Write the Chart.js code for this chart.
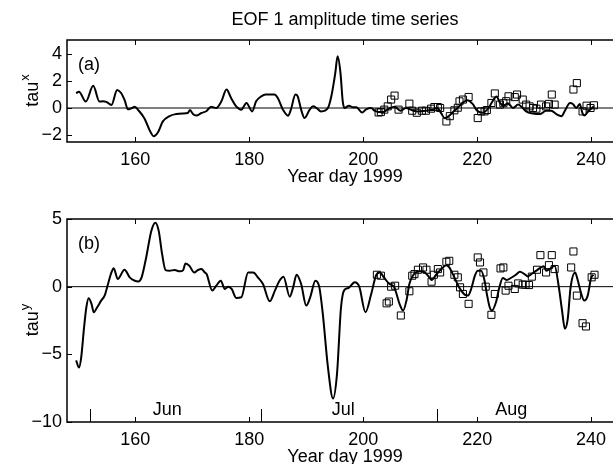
<!DOCTYPE html>
<html>
<head>
<meta charset="utf-8">
<script src="https://cdn.jsdelivr.net/npm/chart.js@4.4.0/dist/chart.umd.min.js"></script>
<style>
html, body { margin: 0; padding: 0; background: #fff; overflow: hidden; width: 613px; height: 464px; }
canvas { position: absolute; left: 0; }
</style>
</head>
<body>
<canvas id="tauX" width="630" height="200" style="top:0"></canvas>
<canvas id="tauY" width="630" height="280" style="top:200px"></canvas>
<script>
// axis ticks and month marks
const xTicks = [160, 180, 200, 220, 240];
const yTicksA = [-2, 0, 2, 4];
const yTicksB = [-10, -5, 0, 5];
const monthStarts = [152, 182, 213];
const monthNames = ['Jun', 'Jul', 'Aug'];
const monthLabelDays = [165.6, 196.5, 226];

// panel (a): EOF 1 amplitude, tau x
const dayA = [149.6, 150.1, 151.3, 152.6, 153.7, 154.3, 154.9, 155.8, 156.8, 157.5, 158.1, 158.7, 159.3, 159.9,
	160.5, 161.6, 162.5, 163.2, 164.0, 164.8, 166.0, 167.2, 168.3, 169.2, 169.6, 170.1, 170.7, 171.6, 172.5,
	173.3, 174.2, 175.1, 176.0, 176.8, 177.7, 178.6, 179.5, 180.5, 181.2, 182.1, 182.9, 184.4, 185.0, 185.9,
	186.8, 187.3, 188.1, 188.5, 189.1, 189.7, 190.6, 191.2, 191.8, 192.6, 193.8, 194.4, 195.1, 195.5, 196.0,
	196.4, 196.7, 197.5, 198.2, 198.8, 199.8, 200.5, 201.4, 202.0, 202.7, 203.5, 204.5, 205.5, 206.5, 207.5,
	208.5, 209.5, 211.0, 212.0, 213.0, 213.7, 214.3, 215.0, 216.0, 216.8, 217.5, 218.3, 219.2, 220.0, 221.0,
	222.0, 222.7, 223.4, 224.0, 224.6, 225.4, 226.3, 227.2, 228.0, 228.6, 229.8, 231.0, 232.1, 233.0, 233.9,
	234.8, 235.4, 236.3, 236.8, 237.4, 238.0, 238.5, 238.8, 239.6, 240.5];
const tauX = [1.09, 1.2, 0.47, 1.63, 0.47, 0.5, 0.45, 0.22, 1.33, 1.1, 0.59, -0.1, -0.02, 0.1,
	-0.15, -0.77, -1.63, -2.07, -1.76, -1.0, -0.59, -0.44, -0.4, -0.37, -0.15, -0.44, -0.55, -0.37, -0.22,
	0.1, 0.0, 0.49, 1.36, 0.74, 0.12, -0.12, 0.37, -0.25, 0.49, 0.86, 0.99, 0.99, 0.74, -0.12,
	-0.57, -0.12, 0.99, 0.86, -0.12, -0.74, -0.12, 0.12, 0.0, -0.25, 0.0, 0.86, 2.59, 3.8, 2.6,
	0.5, 0.0, 0.17, 0.05, 0.05, -0.33, -0.1, 0.0, -0.2, -0.3, -0.3, -0.05, 0.1, -0.2, 0.0,
	-0.15, -0.25, -0.2, -0.15, 0.0, -0.4, -0.75, -0.6, -0.2, 0.1, 0.4, 0.57, 0.3, -0.2, -0.35,
	0.0, 0.5, 0.85, 0.4, 0.15, 0.35, 0.0, 0.25, 0.0, -0.25, -0.4, -0.45, -0.2, -0.2, -0.45,
	-0.6, -0.2, 0.37, 0.3, 0.0, 0.3, -0.4, -0.55, -0.2, 0.12];
const obsDayA = [202.7, 203.1, 203.7, 204.3, 204.9, 205.5, 206.2, 208.1, 208.6, 209.4, 210.3, 211.0, 211.9,
	212.5, 213.1, 213.5, 214.6, 215.2, 216.0, 216.6, 216.9, 217.5, 218.5, 220.1, 220.7, 221.3, 221.7, 222.5,
	223.1, 224.0, 224.6, 225.1, 225.5, 226.6, 227.0, 228.0, 228.6, 229.2, 229.8, 230.4, 231.2, 232.1, 232.6,
	233.1, 233.6, 236.9, 237.5, 238.5, 239.2, 239.9, 240.5];
const obsTauX = [-0.33, -0.3, -0.12, 0.12, 0.62, 0.91, -0.12, 0.32, -0.2, -0.35, -0.2, -0.2, -0.05,
	0.07, 0.07, 0.0, -0.99, -0.6, -0.17, 0.02, 0.49, 0.62, 0.81, -0.74, -0.25, -0.25, -0.15, 0.37,
	1.07, 0.25, 0.35, 0.5, 0.86, 0.8, 0.99, 0.62, 0.25, 0.12, 0.0, -0.05, 0.25, 0.12, 0.3,
	0.99, 0.25, 1.36, 1.83, -0.25, 0.17, 0.0, 0.2];

// panel (b): EOF 1 amplitude, tau y
const dayB = [149.6, 150.1, 150.5, 151.0, 151.4, 151.8, 152.3, 152.7, 153.3, 154.0, 154.6, 155.2, 155.8, 156.2,
	156.9, 158.1, 159.0, 159.9, 160.5, 161.1, 161.9, 162.8, 163.5, 164.1, 164.7, 165.3, 166.0, 166.9, 167.8,
	168.4, 168.8, 169.5, 170.3, 171.0, 171.6, 172.2, 172.5, 173.5, 174.2, 175.0, 175.7, 176.3, 176.9, 177.7,
	178.6, 179.8, 180.7, 181.5, 182.4, 183.6, 184.5, 185.3, 186.0, 187.1, 187.7, 188.3, 189.1, 190.0, 190.7,
	191.6, 192.3, 192.9, 193.8, 194.7, 195.4, 196.1, 196.7, 197.4, 198.5, 199.3, 200.4, 201.4, 202.3, 202.9,
	203.7, 204.6, 205.4, 206.4, 207.0, 207.6, 208.1, 208.7, 209.9, 210.8, 211.6, 212.0, 212.8, 213.7, 214.6,
	215.1, 216.0, 216.9, 217.8, 218.4, 219.0, 219.6, 220.1, 220.7, 221.3, 221.7, 222.2, 222.6, 223.3, 223.9,
	224.5, 225.2, 225.9, 226.8, 227.5, 228.3, 228.9, 229.5, 230.4, 231.2, 231.7, 232.1, 232.7, 233.6, 234.3,
	234.9, 235.4, 235.9, 236.4, 237.2, 237.6, 238.2, 238.8, 239.4, 240.0, 240.4];
const tauY = [-5.44, -5.98, -5.2, -2.99, -1.52, -0.86, -1.27, -1.89, -1.52, -1.03, -0.66, 0.2, 1.05, 1.37,
	0.56, 1.25, 0.69, 0.44, 0.39, 0.69, 2.16, 4.12, 4.73, 4.12, 2.4, 1.23, 1.18, 1.23, 1.13,
	1.23, 1.72, 1.54, 1.05, 1.23, 1.3, 1.05, 0.93, -0.29, 0.07, 0.44, -0.17, 0.0, -0.17, -0.83,
	-0.78, 1.05, 1.05, 0.69, 0.2, -1.08, -0.29, 0.44, 0.74, -0.74, -0.05, 0.88, 0.2, -1.4, -0.78,
	0.44, -0.05, -2.0, -5.93, -8.26, -6.42, -1.52, -0.24, -0.1, 0.32, 0.0, -1.89, -0.54, 0.88, 1.05,
	0.64, 0.2, 0.0, -1.3, -1.76, -1.0, 0.2, 0.81, 1.13, 1.05, 0.69, 0.5, 0.88, 1.3, 1.59,
	1.42, 0.69, -0.1, -0.59, -0.66, -0.1, 0.81, 1.18, 1.18, 0.44, -0.54, -1.52, -1.76, -1.15, -0.05,
	0.64, 0.49, 0.64, 0.88, 1.1, 0.93, 0.76, 0.93, 1.18, 1.42, 1.5, 1.18, 1.3, 1.54, 0.07,
	-1.76, -3.11, -2.38, -0.05, 1.05, 0.56, -0.42, -1.03, -0.66, 0.64, 0.88];
const obsDayB = [202.4, 203.1, 204.1, 204.5, 204.9, 205.6, 206.6, 208.1, 208.6, 209.0, 209.6, 210.5, 211.1,
	212.0, 212.4, 213.1, 213.5, 214.6, 215.1, 216.0, 216.6, 217.0, 217.5, 218.5, 220.1, 220.5, 221.1, 221.5,
	222.5, 223.1, 224.1, 224.6, 225.0, 225.5, 226.6, 227.2, 228.0, 228.5, 229.1, 229.6, 230.5, 231.1, 232.1,
	232.6, 233.1, 233.6, 236.5, 236.9, 237.5, 238.5, 239.1, 240.1, 240.6];
const obsTauY = [0.88, 0.81, -1.23, -1.1, 0.0, 0.07, -2.13, -0.34, 0.81, 0.93, 1.25, 1.42, 1.25,
	0.37, 0.88, 1.3, 1.05, 1.84, 1.91, 0.88, 0.69, -0.05, -0.54, -1.27, 2.16, 1.79, 1.05, 0.0,
	-2.08, -0.54, 1.35, 1.42, -0.29, 0.07, -0.17, 0.24, 0.15, 0.15, 0.12, 0.74, 1.25, 2.33, 1.05,
	1.59, 2.33, 1.3, 1.42, 2.6, -0.66, -2.7, -2.94, 0.69, 0.88];

const FONT = 'Liberation Sans, Arial, Helvetica, sans-serif';
const XMIN = 148, XMAX = 245.6;

function pts(xs, ys) {
	return xs.map((x, i) => ({x: x, y: ys[i]}));
}
function minus(v) {
	return String(v).replace('-', '\u2212');
}

// box, inward ticks, panel letter, y label, title, month marks
const frame = {
	id: 'frame',
	afterDraw(chart, args, o) {
		const ctx = chart.ctx, a = chart.chartArea;
		const x = chart.scales.x, y = chart.scales.y;
		ctx.save();
		ctx.strokeStyle = '#000';
		ctx.fillStyle = '#000';
		ctx.lineWidth = 1.5;
		ctx.strokeRect(a.left, a.top, a.right - a.left, a.bottom - a.top);
		ctx.lineWidth = 1;
		ctx.beginPath();
		x.ticks.forEach(t => {
			const px = Math.round(x.getPixelForValue(t.value)) + 0.5;
			ctx.moveTo(px, a.bottom); ctx.lineTo(px, a.bottom - 5);
			ctx.moveTo(px, a.top); ctx.lineTo(px, a.top + 5);
		});
		y.ticks.forEach(t => {
			const py = Math.round(y.getPixelForValue(t.value)) + 0.5;
			ctx.moveTo(a.left, py); ctx.lineTo(a.left + 5, py);
		});
		if (o.months) {
			monthStarts.forEach(d => {
				const px = Math.round(x.getPixelForValue(d)) + 0.5;
				ctx.moveTo(px, a.bottom); ctx.lineTo(px, a.bottom - 13);
			});
		}
		ctx.stroke();

		ctx.font = '18px ' + FONT;
		ctx.textBaseline = 'middle';
		ctx.textAlign = 'left';
		ctx.fillText(o.letter, a.left + 11, a.top + 25);
		if (o.months) {
			ctx.textAlign = 'center';
			monthNames.forEach((m, i) => {
				ctx.fillText(m, x.getPixelForValue(monthLabelDays[i]), a.bottom - 12);
			});
		}
		if (o.title) {
			ctx.textAlign = 'center';
			ctx.fillText(o.title, (a.left + a.right) / 2, 20);
		}
		// rotated y label with superscript
		const cy = (a.top + a.bottom) / 2;
		ctx.translate(38, cy);
		ctx.rotate(-Math.PI / 2);
		ctx.textBaseline = 'alphabetic';
		ctx.font = '18px ' + FONT;
		const w1 = ctx.measureText('tau').width;
		ctx.font = '13px ' + FONT;
		const w2 = ctx.measureText(o.sup).width;
		ctx.textAlign = 'left';
		ctx.font = '18px ' + FONT;
		ctx.fillText('tau', -(w1 + w2) / 2, 0);
		ctx.font = '13px ' + FONT;
		ctx.fillText(o.sup, -(w1 + w2) / 2 + w1 + 1, -9);
		ctx.restore();
	}
};

function makeChart(id, day, val, obsDay, obsVal, yMin, yMax, yTicks, frameOpts, padTop) {
	return new Chart(document.getElementById(id), {
		type: 'scatter',
		data: {
			datasets: [{
				data: pts(obsDay, obsVal),
				showLine: false,
				pointStyle: 'rect',
				pointRadius: 5,
				borderWidth: 1,
				borderColor: '#000',
				backgroundColor: 'rgba(0,0,0,0)'
			}, {
				data: pts(day, val),
				showLine: true,
				pointRadius: 0,
				borderWidth: 2,
				borderColor: '#000',
				cubicInterpolationMode: 'monotone'
			}, {
				data: pts([XMIN, XMAX], [0, 0]),
				showLine: true,
				pointRadius: 0,
				borderWidth: 1,
				borderColor: '#000'
			}]
		},
		options: {
			responsive: false,
			animation: false,
			events: [],
			layout: {padding: {top: padTop, right: 7, left: 0, bottom: 12}},
			plugins: {
				legend: {display: false},
				tooltip: {enabled: false},
				frame: frameOpts
			},
			scales: {
				x: {
					type: 'linear',
					min: XMIN, max: XMAX,
					grid: {display: false, drawTicks: false},
					border: {display: false},
					afterBuildTicks: s => { s.ticks = xTicks.map(v => ({value: v})); },
					ticks: {color: '#000', padding: 7, font: {family: FONT, size: 18}},
					title: {display: true, text: 'Year day 1999', color: '#000', padding: 0, font: {family: FONT, size: 18}},
					afterFit: s => { s.height = 46; }
				},
				y: {
					min: yMin, max: yMax,
					grid: {display: false, drawTicks: false},
					border: {display: false},
					afterBuildTicks: s => { s.ticks = yTicks.map(v => ({value: v})); },
					ticks: {color: '#000', padding: 5, font: {family: FONT, size: 18}, callback: v => minus(v)},
					afterFit: s => { s.width = 67; }
				}
			}
		},
		plugins: [frame]
	});
}

makeChart('tauX', dayA, tauX, obsDayA, obsTauX, -2.5, 5, yTicksA,
	{letter: '(a)', sup: 'x', title: 'EOF 1 amplitude time series', months: false}, 40);
makeChart('tauY', dayB, tauY, obsDayB, obsTauY, -10, 5, yTicksB,
	{letter: '(b)', sup: 'y', title: '', months: true}, 19);
</script>
</body>
</html>
